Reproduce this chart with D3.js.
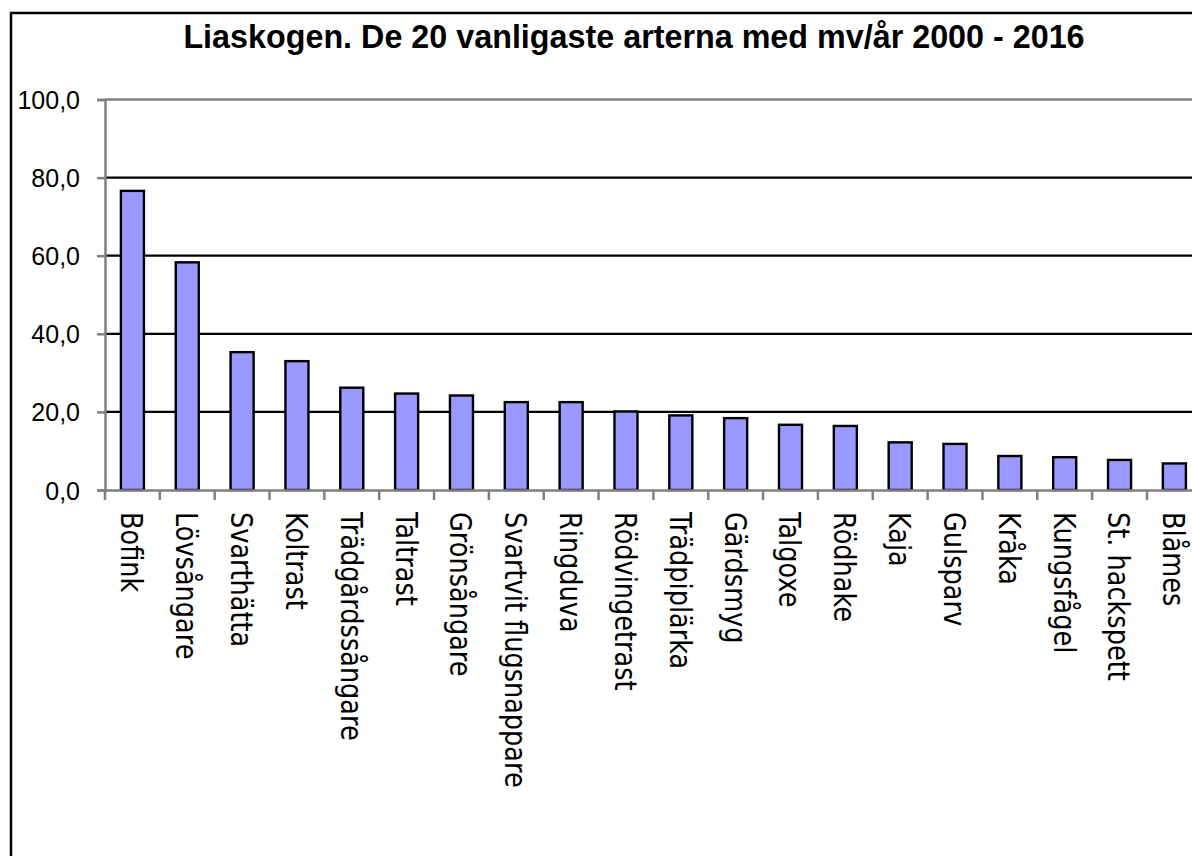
<!DOCTYPE html>
<html><head><meta charset="utf-8">
<script src="https://cdn.jsdelivr.net/npm/d3@7"></script>
<style>html,body{margin:0;padding:0;background:#fff;overflow:hidden}</style>
</head><body>
<svg id="c" width="1192" height="856"></svg>
<script>
const title = "Liaskogen. De 20 vanligaste arterna med mv/år 2000 - 2016";
const categories = ["Bofink","Lövsångare","Svarthätta","Koltrast","Trädgårdssångare","Taltrast","Grönsångare","Svartvit flugsnappare","Ringduva","Rödvingetrast","Trädpiplärka","Gärdsmyg","Talgoxe","Rödhake","Kaja","Gulsparv","Kråka","Kungsfågel","St. hackspett","Blåmes"];
const values = [76.6,58.3,35.3,33.0,26.2,24.7,24.2,22.5,22.5,20.1,19.1,18.4,16.7,16.4,12.2,11.8,8.7,8.4,7.7,6.8];
const yTicks = [0,20,40,60,80,100];

const svg = d3.select("#c");
svg.append("rect").attr("x",11).attr("y",13).attr("width",1250).attr("height",900)
  .attr("fill","#fff").attr("stroke","#000").attr("stroke-width",2.5);

svg.append("text").attr("x",634).attr("y",48).attr("text-anchor","middle")
  .attr("font-family","Liberation Sans, Arial, sans-serif").attr("font-weight","bold")
  .attr("font-size",32.3).text(title);

const left = 105, bw = 54.84;
const x = d3.scaleBand().domain(categories).range([left, left + bw*categories.length]).paddingInner(0.58).paddingOuter(0.29);
const xb = d3.scaleBand().domain(categories).range([left, left + bw*categories.length]);
const y = d3.scaleLinear().domain([0,100]).range([490, 99.5]);

svg.append("g").selectAll("line").data(yTicks.filter(t=>t>0 && t<100)).join("line")
  .attr("x1",left).attr("x2",1260).attr("y1",d=>y(d)).attr("y2",d=>y(d))
  .attr("stroke","#000").attr("stroke-width",2.3);
svg.append("line").attr("x1",left).attr("x2",1260).attr("y1",y(100)).attr("y2",y(100))
  .attr("stroke","#808080").attr("stroke-width",2.5);

svg.append("g").selectAll("rect").data(values).join("rect")
  .attr("x",(d,i)=>x(categories[i])).attr("width",x.bandwidth())
  .attr("y",d=>y(d)).attr("height",d=>y(0)-y(d))
  .attr("fill","#9999FF").attr("stroke","#000").attr("stroke-width",2.4);

const yAxis = d3.axisLeft(y).tickValues(yTicks).tickSize(8).tickPadding(17)
  .tickFormat(d=>d3.format(".1f")(d).replace(".",","));
const gy = svg.append("g").attr("transform",`translate(${left},0)`).call(yAxis);
gy.select(".domain").attr("stroke","#808080").attr("stroke-width",2.5);
gy.selectAll(".tick line").attr("stroke","#808080").attr("stroke-width",2.5);
gy.selectAll(".tick text").attr("font-family","Liberation Sans, Arial, sans-serif").attr("font-size",25).attr("fill","#000").attr("dy","0.36em");

const xAxis = d3.axisBottom(xb).tickSize(0).tickFormat("");
const gx = svg.append("g").attr("transform",`translate(0,${y(0)})`).call(xAxis);
gx.select(".domain").attr("stroke","#808080").attr("stroke-width",2.5);
gx.append("g").selectAll("line").data(d3.range(categories.length+1)).join("line")
  .attr("x1",i=>left+i*bw).attr("x2",i=>left+i*bw).attr("y1",0).attr("y2",10)
  .attr("stroke","#808080").attr("stroke-width",2.5);

svg.append("g").selectAll("text").data(categories).join("text")
  .attr("transform",d=>`translate(${xb(d)+xb.bandwidth()/2},512) rotate(90) scale(1,1.2)`)
  .attr("dy","0.36em").attr("text-anchor","start")
  .attr("font-family","DejaVu Sans, Verdana, sans-serif").attr("font-size",25.6)
  .attr("fill","#000").text(d=>d);
</script>
</body></html>
